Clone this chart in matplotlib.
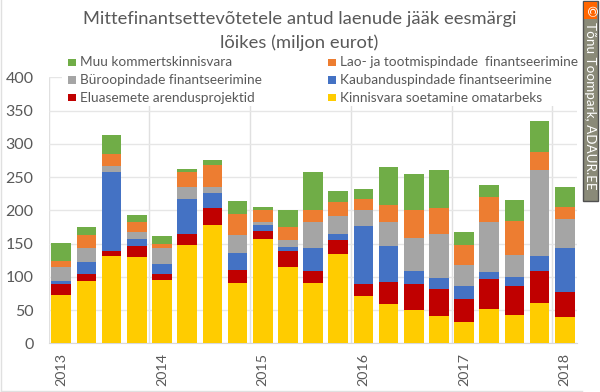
"""
Laenude jaak eesmargi loikes: stacked bars, 21 quarters 2013-2018.
"""
import numpy as np
import matplotlib
matplotlib.use("Agg")
import matplotlib.pyplot as plt
from matplotlib.patches import Rectangle

plt.rcParams["font.family"] = ["Lato", "DejaVu Sans"]

years = ["2013", "2014", "2015", "2016", "2017", "2018"]
year_pos = [0, 4, 8, 12, 16, 20]

omatarbeks = [73, 94.5, 132, 130, 95.5, 148.5, 178, 91.5, 156.5, 114.5, 90.5,
              134, 71.5, 59.5, 49.5, 41, 32, 52, 43, 60.5, 40]
eluasemed = [17, 10.5, 7.5, 16, 9.5, 15.5, 25, 18.5, 12, 24.5, 18.5,
             21, 18.5, 33, 40.5, 41.5, 35, 45, 44, 48.5, 37]
kaubandus = [3.5, 17.5, 118, 11.5, 14, 53.5, 22.5, 25.5, 9, 6, 34,
             9, 87, 54.5, 19, 16.5, 20, 11, 13, 23, 66]
buroo = [22, 20.5, 9.5, 10, 25, 17, 9, 27.5, 4.5, 10, 39.5,
         27, 23, 35, 49, 65, 31, 75, 32.5, 128, 44]
lao = [8, 20, 18, 14.5, 6, 22.5, 34.5, 31.5, 18, 20, 18.5,
       22, 16.5, 26.5, 43, 40, 29.5, 36.5, 52, 27.5, 17.5]
muu = [28, 11.5, 28, 11.5, 11.5, 5.5, 7, 19.5, 4.5, 25, 56,
       16.5, 15.5, 57.5, 54, 56.5, 20.5, 19, 31, 46.5, 31]

# stacking order, bottom to top
series = [
    ("Kinnisvara soetamine omatarbeks", omatarbeks, "#ffcc00"),
    ("Eluasemete arendusprojektid", eluasemed, "#c00000"),
    ("Kaubanduspindade finantseerimine", kaubandus, "#4472c4"),
    ("Büroopindade finantseerimine", buroo, "#a5a5a5"),
    ("Lao- ja tootmispindade  finantseerimine", lao, "#ed7d31"),
    ("Muu kommertskinnisvara", muu, "#70ad47"),
]
# legend rows, top to bottom, left column then right column
legend_order = [5, 3, 1, 4, 2, 0]

W, H = 600, 392
fig = plt.figure(figsize=(W / 100, H / 100), dpi=100, facecolor="white")
ax = fig.add_axes([48.7 / W, 1 - 343.4 / H, (577.4 - 48.7) / W, (343.4 - 77.4) / H])

x = np.arange(len(omatarbeks))
bottom = np.zeros(len(x))
for name, vals, color in series:
    ax.bar(x, vals, bottom=bottom, width=0.78, color=color, zorder=3, label=name)
    bottom += np.array(vals)

ax.set_xlim(-0.5, 20.5)
ax.set_ylim(0, 400)
ax.set_yticks(range(0, 401, 50))
ax.set_xticks(year_pos)
ax.set_xticklabels(years, rotation=90, fontsize=10.3, color="#595959")
ax.tick_params(axis="y", length=0, labelsize=11.5, labelcolor="#595959", pad=11)
ax.tick_params(axis="x", length=0, pad=7)
ax.yaxis.grid(True, color="#e6e6e6", linewidth=1, zorder=0)
for v in np.arange(-0.5, 21, 4):
    ax.axvline(v, color="#e0e0e0", linewidth=1, zorder=0)
for s in ["top", "right", "left"]:
    ax.spines[s].set_visible(False)
ax.spines["bottom"].set_color("#d9d9d9")

# the legend box is opaque and hides the top of the grid
ax.add_patch(Rectangle((62 / W, 1 - 106 / H), (578 - 62) / W, 52 / H, transform=fig.transFigure,
                       facecolor="white", edgecolor="none", zorder=4, clip_on=False))
rows = [62.5, 80, 97.5]
for n, idx in enumerate(legend_order):
    name, _, color = series[idx]
    col = 0 if n < 3 else 1
    px = 68 if col == 0 else 328
    py = rows[n % 3]
    fig.patches.append(Rectangle((px / W, 1 - (py + 3.5) / H), 7.5 / W, 7.5 / H,
                                 transform=fig.transFigure, facecolor=color, edgecolor="none"))
    fig.text((px + 12) / W, 1 - py / H, name, fontsize=9.85, color="#595959", va="center", ha="left")

fig.text(299.5 / W, 1 - 19 / H, "Mittefinantsettevõtetele antud laenude jääk eesmärgi",
         fontsize=13.2, color="#595959", ha="center", va="center")
fig.text(299.5 / W, 1 - 43 / H, "lõikes (miljon eurot)",
         fontsize=13.2, color="#595959", ha="center", va="center")

# chart border
fig.add_artist(plt.Line2D([1 / W, 1 / W], [0.003, 1], color="#e0e0e0", linewidth=1))
fig.add_artist(plt.Line2D([1 / W, 582 / W], [1.5 / H, 1.5 / H], color="#e0e0e0", linewidth=1))

# watermark
fig.patches.append(Rectangle((582.5 / W, 1 - 200.5 / H), 15 / W, 200 / H, transform=fig.transFigure,
                             facecolor="#8a8a78", edgecolor="#505050", linewidth=1))
fig.patches.append(Rectangle((584 / W, 1 - 19 / H), 12.5 / W, 17 / H, transform=fig.transFigure,
                             facecolor="#ff6600", edgecolor="none"))
fig.text(590 / W, 1 - 10.5 / H, "©", fontsize=10, color="white", rotation=-90, ha="center", va="center")
fig.text(590 / W, 1 - 22.5 / H, "Tõnu Toompark, ADAUR.EE", fontsize=9.7, color="white",
         rotation=-90, ha="center", va="top")

fig.savefig("out.png", dpi=100)
